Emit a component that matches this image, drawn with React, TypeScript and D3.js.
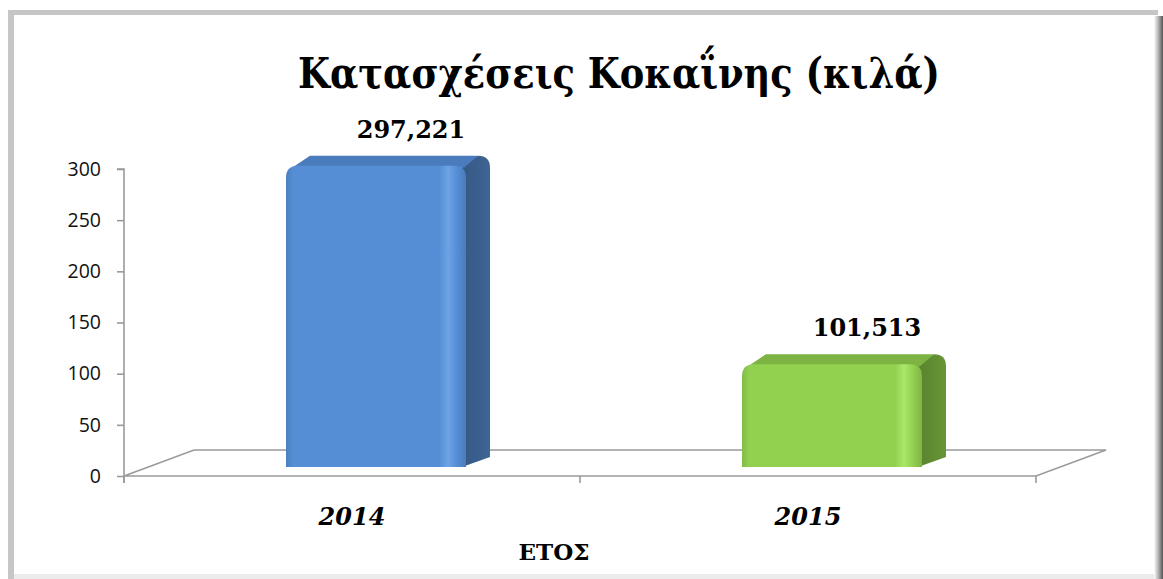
import React, { useEffect, useRef } from 'react';
import * as d3 from 'd3';

const years = ['2014', '2015'];
const kilos = [297.221, 101.513];
const yTicks = [0, 50, 100, 150, 200, 250, 300];
const title = 'Κατασχέσεις Κοκαΐνης (κιλά)';
const axisTitle = 'ΕΤΟΣ';

const palette = [
  { front: '#558ed5', light: '#6ea3e6', side: '#3a5e8c', top: '#4a7bbd' },
  { front: '#92d050', light: '#a9e86a', side: '#618c32', top: '#7cb342' },
];

const App = () => {
  const svgRef = useRef<SVGSVGElement>(null);

  useEffect(() => {
    const width = 1163;
    const height = 579;
    const svg = d3.select(svgRef.current).attr('width', width).attr('height', height);
    svg.selectAll('*').remove();

    const defs = svg.append('defs');

    // frame
    const shadow = defs.append('linearGradient').attr('id', 'rshadow').attr('x1', 0).attr('x2', 1);
    shadow.append('stop').attr('offset', 0).attr('stop-color', '#ffffff');
    shadow.append('stop').attr('offset', 0.5).attr('stop-color', '#b0b0b0');
    shadow.append('stop').attr('offset', 1).attr('stop-color', '#555555');
    svg.append('rect').attr('x', 0).attr('y', 0).attr('width', width).attr('height', height).attr('fill', '#fff');
    svg.append('rect').attr('x', 8).attr('y', 10).attr('width', 1150).attr('height', 5).attr('fill', '#c6c6c6');
    svg.append('rect').attr('x', 8).attr('y', 10).attr('width', 6).attr('height', 569).attr('fill', '#c6c6c6');
    svg.append('rect').attr('x', 1154).attr('y', 16).attr('width', 9).attr('height', 563).attr('fill', 'url(#rshadow)');
    svg.append('rect').attr('x', 14).attr('y', 574).attr('width', 1140).attr('height', 5).attr('fill', '#ececec');

    const x0 = 124;
    const x1 = 1036;
    const floorFront = 476;
    const floorDx = 70;
    const floorDy = -26;
    const base = 467;

    const x = d3.scaleBand().domain(years).range([x0, x1]);
    const yAxisScale = d3.scaleLinear().domain([0, 300]).range([floorFront, 169]);
    const yBar = d3.scaleLinear().domain([0, 300]).range([base, 163]);

    // floor
    const floor = svg.append('g').attr('fill', 'none').attr('stroke', '#9a9a9a').attr('stroke-width', 1.6);
    floor.append('path').attr('d', `M${x0},${floorFront} L${x0 + floorDx},${floorFront + floorDy} L${x1 + floorDx},${floorFront + floorDy} L${x1},${floorFront} Z`);
    [x0, x0 + x.step(), x1].forEach((t) => {
      floor.append('line').attr('x1', t).attr('x2', t).attr('y1', floorFront).attr('y2', floorFront + 7);
    });

    // y axis
    const axis = svg.append('g').attr('transform', `translate(${x0},0)`)
      .call(d3.axisLeft(yAxisScale).tickValues(yTicks).tickSize(7).tickPadding(16));
    axis.select('.domain').attr('stroke', '#9a9a9a').attr('stroke-width', 1.6)
      .attr('d', `M-7,${yAxisScale(300)}H0V${floorFront + 7}`);
    axis.selectAll('.tick line').attr('stroke', '#9a9a9a').attr('stroke-width', 1.6);
    axis.selectAll('.tick text').attr('font-family', 'Open Sans, sans-serif').attr('font-size', 19.5).attr('fill', '#111');

    // bars
    const barW = 180;
    const dx = 24;
    const dy = -10;
    const r = 12;
    const fmt = d3.formatLocale({ decimal: ',', thousands: '.', grouping: [3], currency: ['', '€'] }).format('.3f');

    years.forEach((yr, i) => {
      const c = palette[i];
      const cx = (x(yr) as number) + x.bandwidth() / 2 + dx;
      const bx0 = cx - barW / 2;
      const bx1 = cx + barW / 2;
      const top = yBar(kilos[i]);

      const g = defs.append('linearGradient').attr('id', `front${i}`).attr('x1', 0).attr('x2', 1);
      [[0, d3.color(c.front)!.darker(0.3).formatHex()], [0.04, c.front], [0.85, c.front], [0.9, c.light], [0.95, c.front], [1, d3.color(c.front)!.darker(0.4).formatHex()]]
        .forEach(([o, col]) => g.append('stop').attr('offset', o).attr('stop-color', col as string));
      const sg = defs.append('linearGradient').attr('id', `side${i}`).attr('x1', 0).attr('x2', 1);
      sg.append('stop').attr('offset', 0).attr('stop-color', d3.color(c.side)!.darker(0.2).formatHex());
      sg.append('stop').attr('offset', 0.5).attr('stop-color', c.side);
      sg.append('stop').attr('offset', 1).attr('stop-color', d3.color(c.side)!.brighter(0.2).formatHex());

      // side
      svg.append('path').attr('fill', `url(#side${i})`)
        .attr('d', `M${bx1 - 4},${top} L${bx1 + dx - r},${top + dy} Q${bx1 + dx},${top + dy} ${bx1 + dx},${top + dy + r} L${bx1 + dx},${base + dy} L${bx1 - 4},${base} Z`);
      // top
      svg.append('path').attr('fill', c.top)
        .attr('d', `M${bx0 + 6},${top + 2} L${bx0 + dx},${top + dy} L${bx1 + dx - r},${top + dy} L${bx1 - 2},${top + 2} Z`);
      // front
      svg.append('path').attr('fill', `url(#front${i})`)
        .attr('d', `M${bx0},${base} V${top + r} Q${bx0},${top} ${bx0 + r},${top} H${bx1 - r} Q${bx1},${top} ${bx1},${top + r} V${base} Z`);

      svg.append('text').attr('x', cx + 35).attr('y', top - 28)
        .attr('text-anchor', 'middle').attr('font-family', 'DejaVu Serif, serif').attr('font-weight', 'bold')
        .attr('font-size', 24).attr('fill', '#000').text(fmt(kilos[i]));

      svg.append('text').attr('x', (x(yr) as number) + x.bandwidth() / 2).attr('y', 525)
        .attr('text-anchor', 'middle').attr('font-family', 'DejaVu Serif, serif').attr('font-weight', 'bold')
        .attr('font-style', 'italic').attr('font-size', 24).attr('fill', '#000').text(yr);
    });

    svg.append('text').attr('x', 554).attr('y', 560).attr('text-anchor', 'middle')
      .attr('font-family', 'DejaVu Serif, serif').attr('font-weight', 'bold').attr('font-size', 23)
      .attr('fill', '#000').text(axisTitle);

    svg.append('text').attr('x', 619).attr('y', 88).attr('text-anchor', 'middle')
      .attr('font-family', 'DejaVu Serif, serif').attr('font-weight', 'bold').attr('font-size', 42)
      .attr('textLength', 642).attr('lengthAdjust', 'spacingAndGlyphs')
      .attr('fill', '#000').text(title);
  }, []);

  return <svg ref={svgRef} style={{ position: 'absolute', left: 0, top: 0, display: 'block' }} />;
};

export default App;
